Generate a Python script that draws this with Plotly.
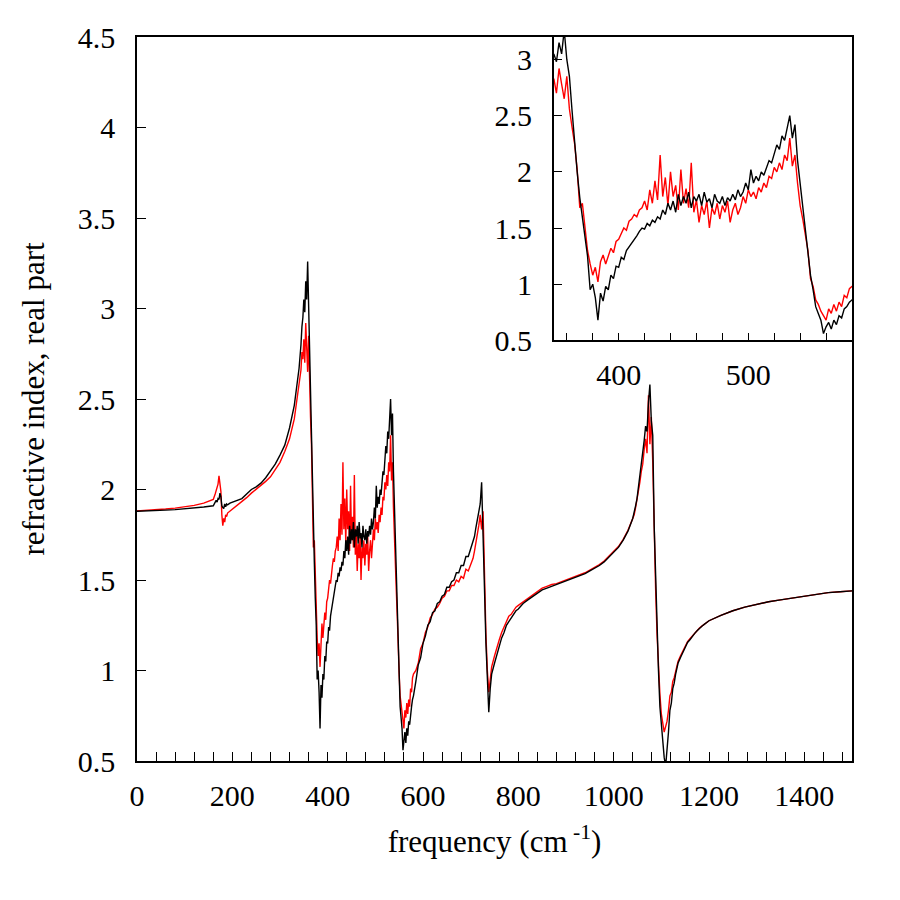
import plotly.graph_objects as go

# 周波数グリッド (cm^-1)、ノイズの多い領域は細かく
FREQ = (list(range(0, 161, 20)) + list(range(164, 191, 2)) + [195]
        + list(range(200, 341, 10)) + list(range(342, 581, 2))
        + list(range(585, 701, 5)) + list(range(702, 745, 3))
        + list(range(750, 801, 5)) + list(range(810, 1041, 10))
        + list(range(1043, 1131, 3)) + list(range(1135, 1196, 5))
        + list(range(1200, 1501, 25)))

# 黒: 屈折率 実部 (系列1)
N_BLACK = [
    1.880, 1.881, 1.883, 1.886, 1.889, 1.893, 1.897, 1.903, 1.910,
    1.935, 1.94, 1.93, 1.95, 1.945, 1.98, 1.96, 1.91, 1.90, 1.895, 1.92, 1.905, 1.92, 1.915, 1.925,
    1.93, 1.94, 1.95, 1.975, 2.00, 2.015, 2.035, 2.065, 2.10, 2.14, 2.19, 2.245, 2.34, 2.465, 2.67,
    # 342-580
    2.72, 2.80, 2.90, 2.95, 3.05, 2.98, 3.15, 3.05, 3.26, 3.00,
    2.85, 2.55, 2.25, 2.00, 1.77, 1.60, 1.40, 1.25, 0.95, 1.00,
    0.88, 0.68, 0.92, 0.85, 0.98, 0.95, 1.08, 1.05, 1.16, 1.15,
    1.24, 1.22, 1.30, 1.33, 1.37, 1.40, 1.43, 1.47, 1.50, 1.49,
    1.54, 1.52, 1.57, 1.55, 1.60, 1.58, 1.66, 1.62, 1.72, 1.66,
    1.74, 1.64, 1.80, 1.70, 1.78, 1.72, 1.82, 1.68, 1.78, 1.74,
    1.80, 1.70, 1.82, 1.73, 1.76, 1.68, 1.80, 1.74, 1.72, 1.78,
    1.70, 1.77, 1.74, 1.80, 1.75, 1.84, 1.78, 1.82, 1.90, 1.84,
    2.02, 1.90, 1.96, 1.92, 2.00, 1.97, 2.04, 2.10, 2.08, 2.16,
    2.24, 2.20, 2.32, 2.28, 2.40, 2.50, 2.30, 2.42, 2.10, 1.90,
    1.65, 1.50, 1.25, 1.08, 0.95, 0.80, 0.74, 0.68, 0.56, 0.62,
    0.66, 0.60, 0.68, 0.64, 0.72, 0.70, 0.78, 0.80, 0.84, 0.86,
    # 585-700
    0.94, 1.03, 1.07, 1.15, 1.19, 1.25, 1.27, 1.32, 1.33, 1.37, 1.38, 1.41,
    1.42, 1.46, 1.46, 1.49, 1.50, 1.54, 1.54, 1.58, 1.58, 1.63, 1.63, 1.67,
    # 702-744
    1.68, 1.71, 1.74, 1.79, 1.83, 1.88, 1.92, 2.04, 1.80, 1.45, 1.15, 0.95, 0.77, 0.90, 0.98,
    # 750-800
    1.04, 1.09, 1.14, 1.18, 1.21, 1.25, 1.27, 1.29, 1.31, 1.33, 1.34,
    # 810-1040
    1.37, 1.39, 1.41, 1.43, 1.445, 1.455, 1.465, 1.475, 1.485, 1.495, 1.505, 1.515,
    1.525, 1.535, 1.55, 1.565, 1.58, 1.60, 1.625, 1.65, 1.68, 1.72, 1.77, 1.84,
    # 1043-1130
    1.87, 1.91, 1.95, 2.01, 2.06, 2.12, 2.20, 2.27, 2.35, 2.32,
    2.48, 2.58, 2.38, 2.30, 1.80, 1.50, 1.25, 1.00, 0.80, 0.70,
    0.62, 0.52, 0.47, 0.55, 0.66, 0.78, 0.82, 0.90, 0.93, 0.98,
    # 1135-1195
    1.04, 1.07, 1.10, 1.13, 1.155, 1.17, 1.19, 1.205, 1.22, 1.235, 1.245, 1.255, 1.265,
    # 1200-1500
    1.275, 1.305, 1.33, 1.35, 1.365, 1.38, 1.39, 1.40, 1.41, 1.42, 1.43, 1.435, 1.44,
]

# 赤: 屈折率 実部 (系列2)
N_RED = [
    1.882, 1.884, 1.887, 1.892, 1.897, 1.903, 1.912, 1.925, 1.945,
    1.975, 1.99, 2.01, 2.03, 2.075, 2.04, 1.99, 1.86, 1.80, 1.84, 1.82, 1.86, 1.85, 1.87, 1.88,
    1.89, 1.91, 1.93, 1.955, 1.98, 2.00, 2.02, 2.045, 2.07, 2.11, 2.15, 2.21, 2.28, 2.39, 2.575,
    # 342-580
    2.60, 2.66, 2.76, 2.72, 2.83, 2.70, 2.92, 2.78, 2.65, 2.85,
    2.56, 2.40, 2.25, 2.02, 1.68, 1.72, 1.53, 1.30, 1.18, 1.08,
    1.15, 1.02, 1.20, 1.26, 1.18, 1.25, 1.32, 1.28, 1.38, 1.40,
    1.45, 1.50, 1.48, 1.56, 1.58, 1.62, 1.60, 1.66, 1.68, 1.74,
    1.66, 1.84, 1.72, 1.92, 1.75, 2.15, 1.78, 1.95, 1.70, 2.00,
    1.78, 1.88, 1.66, 2.02, 1.72, 1.85, 1.68, 2.08, 1.64, 1.75,
    1.55, 1.70, 1.62, 1.74, 1.50, 1.68, 1.62, 1.72, 1.58, 1.70,
    1.64, 1.74, 1.55, 1.66, 1.72, 1.62, 1.68, 1.78, 1.72, 1.84,
    1.78, 1.82, 1.76, 1.86, 1.82, 1.90, 1.86, 1.96, 1.94, 2.04,
    2.00, 2.08, 2.02, 2.15, 2.10, 2.30, 2.05, 2.15, 1.90, 1.70,
    1.58, 1.44, 1.30, 1.05, 0.98, 0.86, 0.82, 0.76, 0.72, 0.68,
    0.78, 0.74, 0.82, 0.76, 0.84, 0.80, 0.90, 0.88, 0.96, 0.98,
    # 585-700
    1.00, 1.04, 1.12, 1.15, 1.21, 1.24, 1.29, 1.31, 1.34, 1.35, 1.37, 1.40,
    1.41, 1.44, 1.44, 1.47, 1.47, 1.50, 1.49, 1.52, 1.51, 1.56, 1.55, 1.58,
    # 702-744
    1.60, 1.62, 1.66, 1.70, 1.74, 1.80, 1.86, 1.78, 1.88, 1.50, 1.20, 1.00, 0.88, 0.95, 1.02,
    # 750-800
    1.08, 1.13, 1.17, 1.21, 1.24, 1.28, 1.30, 1.31, 1.33, 1.35, 1.36,
    # 810-1040
    1.38, 1.40, 1.42, 1.44, 1.455, 1.465, 1.475, 1.48, 1.49, 1.50, 1.51, 1.52,
    1.53, 1.54, 1.555, 1.57, 1.585, 1.605, 1.63, 1.655, 1.685, 1.725, 1.775, 1.84,
    # 1043-1130
    1.86, 1.90, 1.94, 1.99, 2.04, 2.10, 2.14, 2.22, 2.28, 2.20,
    2.52, 2.25, 2.40, 2.15, 1.70, 1.45, 1.20, 1.02, 0.87, 0.76,
    0.70, 0.66, 0.69, 0.72, 0.78, 0.86, 0.88, 0.94, 0.96, 1.00,
    # 1135-1195
    1.05, 1.08, 1.11, 1.135, 1.16, 1.175, 1.19, 1.21, 1.22, 1.235, 1.245, 1.255, 1.265,
    # 1200-1500
    1.275, 1.305, 1.33, 1.35, 1.365, 1.38, 1.39, 1.40, 1.41, 1.42, 1.43, 1.435, 1.44,
]

assert len(FREQ) == len(N_BLACK) == len(N_RED)

FONT = "Liberation Serif, Times New Roman, DejaVu Serif, serif"

fig = go.Figure()

# 本体と拡大図 (同じデータ)
for xa, ya in [("x", "y"), ("x2", "y2")]:
    fig.add_trace(go.Scatter(x=FREQ, y=N_RED, mode="lines", xaxis=xa, yaxis=ya,
                             line=dict(color="red", width=1.4), hoverinfo="skip"))
    fig.add_trace(go.Scatter(x=FREQ, y=N_BLACK, mode="lines", xaxis=xa, yaxis=ya,
                             line=dict(color="black", width=1.4), hoverinfo="skip"))

axis_common = dict(
    showline=True, mirror=True, linecolor="black", linewidth=1.5,
    showgrid=False, zeroline=False, ticks="inside", tickcolor="black",
    tickfont=dict(family=FONT, size=30, color="black"),
)

fig.update_layout(
    width=900, height=900,
    margin=dict(l=129, r=56, t=25, b=147),
    paper_bgcolor="white", plot_bgcolor="white",
    font=dict(family=FONT, color="black"),
    showlegend=False,
    xaxis=dict(domain=[0, 1], range=[0, 1500], tick0=0, dtick=200, ticklen=9,
               minor=dict(dtick=40, ticks="inside", ticklen=9, tickcolor="black"),
               ticklabelstandoff=7,
               title=dict(text="frequency (cm<sup> -1</sup>)", standoff=20,
                          font=dict(family=FONT, size=31, color="black")),
               **axis_common),
    yaxis=dict(domain=[0, 1], range=[0.5, 4.5], tick0=0.5, dtick=0.5, ticklen=9,
               ticklabelstandoff=14,
               title=dict(text="refractive index, real part", standoff=24,
                          font=dict(family=FONT, size=31, color="black")),
               **axis_common),
    xaxis2=dict(domain=[0.583, 1], anchor="y2", range=[350, 580], tick0=0, dtick=100,
                ticklen=8, ticklabelstandoff=7,
                minor=dict(dtick=20, ticks="inside", ticklen=8, tickcolor="black"),
                **axis_common),
    yaxis2=dict(domain=[0.581, 1], anchor="x2", range=[0.5, 3.2], tick0=0.5, dtick=0.5,
                ticklen=8, ticklabelstandoff=14, **axis_common),
)

fig.write_html("out.html")
